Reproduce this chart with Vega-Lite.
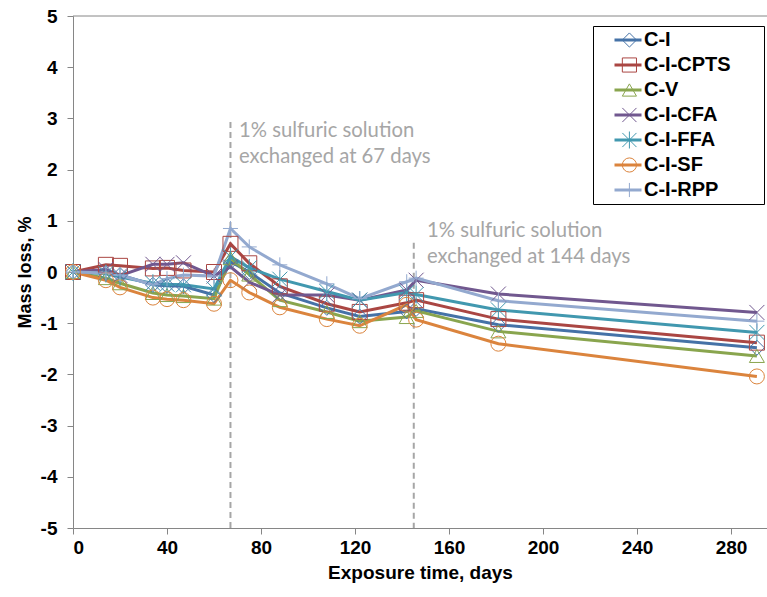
{
  "$schema": "https://vega.github.io/schema/vega-lite/v6.json",
  "width": 694,
  "height": 512,
  "autosize": "none",
  "padding": {"left": 73, "top": 16, "right": 0, "bottom": 69},
  "config": {"view": {"stroke": null}, "font": "Liberation Sans"},
  "datasets": {
    "mass": [
      {"series":"C-I","day":0,"loss":0},{"series":"C-I","day":14,"loss":-0.02},{"series":"C-I","day":20,"loss":-0.06},{"series":"C-I","day":34,"loss":-0.25},{"series":"C-I","day":40,"loss":-0.27},{"series":"C-I","day":47,"loss":-0.28},{"series":"C-I","day":60,"loss":-0.45},{"series":"C-I","day":67,"loss":0.2},{"series":"C-I","day":75,"loss":0.0},{"series":"C-I","day":88,"loss":-0.41},{"series":"C-I","day":108,"loss":-0.7},{"series":"C-I","day":122,"loss":-0.87},{"series":"C-I","day":142,"loss":-0.77},{"series":"C-I","day":146,"loss":-0.72},{"series":"C-I","day":181,"loss":-1.03},{"series":"C-I","day":291,"loss":-1.48},
      {"series":"C-I-CPTS","day":0,"loss":0},{"series":"C-I-CPTS","day":14,"loss":0.14},{"series":"C-I-CPTS","day":20,"loss":0.12},{"series":"C-I-CPTS","day":34,"loss":0.07},{"series":"C-I-CPTS","day":40,"loss":0.08},{"series":"C-I-CPTS","day":47,"loss":0.03},{"series":"C-I-CPTS","day":60,"loss":0.0},{"series":"C-I-CPTS","day":67,"loss":0.55},{"series":"C-I-CPTS","day":75,"loss":0.17},{"series":"C-I-CPTS","day":88,"loss":-0.28},{"series":"C-I-CPTS","day":108,"loss":-0.62},{"series":"C-I-CPTS","day":122,"loss":-0.78},{"series":"C-I-CPTS","day":142,"loss":-0.6},{"series":"C-I-CPTS","day":146,"loss":-0.55},{"series":"C-I-CPTS","day":181,"loss":-0.92},{"series":"C-I-CPTS","day":291,"loss":-1.38},
      {"series":"C-V","day":0,"loss":0},{"series":"C-V","day":14,"loss":-0.12},{"series":"C-V","day":20,"loss":-0.22},{"series":"C-V","day":34,"loss":-0.41},{"series":"C-V","day":40,"loss":-0.45},{"series":"C-V","day":47,"loss":-0.47},{"series":"C-V","day":60,"loss":-0.52},{"series":"C-V","day":67,"loss":0.27},{"series":"C-V","day":75,"loss":-0.05},{"series":"C-V","day":88,"loss":-0.55},{"series":"C-V","day":108,"loss":-0.78},{"series":"C-V","day":122,"loss":-0.96},{"series":"C-V","day":142,"loss":-0.88},{"series":"C-V","day":146,"loss":-0.76},{"series":"C-V","day":181,"loss":-1.16},{"series":"C-V","day":291,"loss":-1.64},
      {"series":"C-I-CFA","day":0,"loss":0},{"series":"C-I-CFA","day":14,"loss":0.05},{"series":"C-I-CFA","day":20,"loss":-0.07},{"series":"C-I-CFA","day":34,"loss":0.15},{"series":"C-I-CFA","day":40,"loss":0.15},{"series":"C-I-CFA","day":47,"loss":0.18},{"series":"C-I-CFA","day":60,"loss":-0.08},{"series":"C-I-CFA","day":67,"loss":0.1},{"series":"C-I-CFA","day":75,"loss":-0.2},{"series":"C-I-CFA","day":88,"loss":-0.45},{"series":"C-I-CFA","day":108,"loss":-0.45},{"series":"C-I-CFA","day":122,"loss":-0.55},{"series":"C-I-CFA","day":142,"loss":-0.35},{"series":"C-I-CFA","day":146,"loss":-0.16},{"series":"C-I-CFA","day":181,"loss":-0.43},{"series":"C-I-CFA","day":291,"loss":-0.79},
      {"series":"C-I-FFA","day":0,"loss":0},{"series":"C-I-FFA","day":14,"loss":-0.03},{"series":"C-I-FFA","day":20,"loss":-0.1},{"series":"C-I-FFA","day":34,"loss":-0.22},{"series":"C-I-FFA","day":40,"loss":-0.24},{"series":"C-I-FFA","day":47,"loss":-0.25},{"series":"C-I-FFA","day":60,"loss":-0.33},{"series":"C-I-FFA","day":67,"loss":0.3},{"series":"C-I-FFA","day":75,"loss":0.08},{"series":"C-I-FFA","day":88,"loss":-0.14},{"series":"C-I-FFA","day":108,"loss":-0.38},{"series":"C-I-FFA","day":122,"loss":-0.55},{"series":"C-I-FFA","day":142,"loss":-0.4},{"series":"C-I-FFA","day":146,"loss":-0.44},{"series":"C-I-FFA","day":181,"loss":-0.74},{"series":"C-I-FFA","day":291,"loss":-1.18},
      {"series":"C-I-SF","day":0,"loss":0},{"series":"C-I-SF","day":14,"loss":-0.16},{"series":"C-I-SF","day":20,"loss":-0.3},{"series":"C-I-SF","day":34,"loss":-0.5},{"series":"C-I-SF","day":40,"loss":-0.53},{"series":"C-I-SF","day":47,"loss":-0.55},{"series":"C-I-SF","day":60,"loss":-0.62},{"series":"C-I-SF","day":67,"loss":-0.16},{"series":"C-I-SF","day":75,"loss":-0.4},{"series":"C-I-SF","day":88,"loss":-0.69},{"series":"C-I-SF","day":108,"loss":-0.92},{"series":"C-I-SF","day":122,"loss":-1.05},{"series":"C-I-SF","day":142,"loss":-0.64},{"series":"C-I-SF","day":146,"loss":-0.93},{"series":"C-I-SF","day":181,"loss":-1.4},{"series":"C-I-SF","day":291,"loss":-2.04},
      {"series":"C-I-RPP","day":0,"loss":0},{"series":"C-I-RPP","day":14,"loss":-0.02},{"series":"C-I-RPP","day":20,"loss":-0.06},{"series":"C-I-RPP","day":34,"loss":-0.25},{"series":"C-I-RPP","day":40,"loss":-0.13},{"series":"C-I-RPP","day":47,"loss":-0.06},{"series":"C-I-RPP","day":60,"loss":-0.08},{"series":"C-I-RPP","day":67,"loss":0.85},{"series":"C-I-RPP","day":75,"loss":0.49},{"series":"C-I-RPP","day":88,"loss":0.14},{"series":"C-I-RPP","day":108,"loss":-0.23},{"series":"C-I-RPP","day":122,"loss":-0.52},{"series":"C-I-RPP","day":142,"loss":-0.19},{"series":"C-I-RPP","day":146,"loss":-0.12},{"series":"C-I-RPP","day":181,"loss":-0.56},{"series":"C-I-RPP","day":291,"loss":-0.96}
    ],
    "events": [
      {"day": 67, "top": 2.93, "bottom": -5},
      {"day": 145, "top": 0.57, "bottom": -5}
    ],
    "notes": [
      {"day": 70.6, "loss": 2.64, "note": "1% sulfuric solution\nexchanged at 67 days"},
      {"day": 150.6, "loss": 0.68, "note": "1% sulfuric solution\nexchanged at 144 days"}
    ]
  },
  "layer": [
    {
      "data": {"values": [{"top": 5}]},
      "mark": {"type": "rule", "color": "#868686", "strokeWidth": 1},
      "encoding": {"y": {"field": "top", "type": "quantitative", "scale": {"domain": [-5, 5], "nice": false}}}
    },
    {
      "data": {"name": "events"},
      "mark": {"type": "rule", "color": "#A6A6A6", "strokeWidth": 2, "strokeDash": [6, 4]},
      "encoding": {
        "x": {"field": "day", "type": "quantitative"},
        "y": {"field": "top", "type": "quantitative"},
        "y2": {"field": "bottom"}
      }
    },
    {
      "data": {"name": "notes"},
      "mark": {"type": "text", "align": "left", "baseline": "alphabetic", "font": "Lato", "fontSize": 20.3, "color": "#A6A6A6", "lineBreak": "\n", "lineHeight": 26},
      "encoding": {
        "x": {"field": "day", "type": "quantitative"},
        "y": {"field": "loss", "type": "quantitative"},
        "text": {"field": "note", "type": "nominal"}
      }
    },
    {
      "data": {"name": "mass"},
      "mark": {"type": "line", "strokeWidth": 3},
      "encoding": {
        "x": {
          "field": "day", "type": "quantitative",
          "scale": {"domain": [0, 295.3], "nice": false, "zero": false},
          "axis": {
            "values": [0, 40, 80, 120, 160, 200, 240, 280],
            "title": "Exposure time, days",
            "titleFont": "Liberation Sans", "titleFontSize": 19, "titleFontWeight": "bold", "titleColor": "black", "titlePadding": 6,
            "labelFont": "Liberation Sans", "labelFontSize": 19, "labelFontWeight": "bold", "labelColor": "black", "labelPadding": 4,
            "domainColor": "#868686", "tickColor": "#868686", "tickSize": 6, "grid": false
          }
        },
        "y": {
          "field": "loss", "type": "quantitative",
          "scale": {"domain": [-5, 5], "nice": false},
          "axis": {
            "values": [-5, -4, -3, -2, -1, 0, 1, 2, 3, 4, 5],
            "labelExpr": "'' + datum.value",
            "title": "Mass loss, %",
            "titleFont": "Liberation Sans", "titleFontSize": 18, "titleFontWeight": "bold", "titleColor": "black", "titlePadding": 6,
            "labelFont": "Liberation Sans", "labelFontSize": 19, "labelFontWeight": "bold", "labelColor": "black", "labelPadding": 10,
            "domainColor": "#868686", "tickColor": "#868686", "tickSize": 6, "grid": false
          }
        },
        "stroke": {
          "field": "series", "type": "nominal",
          "scale": {
            "domain": ["C-I", "C-I-CPTS", "C-V", "C-I-CFA", "C-I-FFA", "C-I-SF", "C-I-RPP"],
            "range": ["#4572A7", "#AA4643", "#89A54E", "#71588F", "#4198AF", "#DB843D", "#93A9CF"]
          },
          "legend": {
            "orient": "none", "legendX": 520, "legendY": 10,
            "title": " ", "titleOrient": "right", "titlePadding": 29, "titleFontSize": 1,
            "symbolType": "stroke", "symbolSize": 729, "symbolStrokeWidth": 3,
            "clipHeight": 20, "rowPadding": 5, "padding": 4, "symbolOffset": 16, "labelOffset": 1,
            "labelFont": "Liberation Sans", "labelFontSize": 20, "labelFontWeight": "bold", "labelColor": "black",
            "strokeColor": "black", "fillColor": "white", "zindex": 0
          }
        }
      }
    },
    {
      "data": {"name": "mass"},
      "mark": {"type": "point", "filled": false, "size": 225, "strokeWidth": 1, "opacity": 1},
      "encoding": {
        "x": {"field": "day", "type": "quantitative"},
        "y": {"field": "loss", "type": "quantitative"},
        "color": {
          "field": "series", "type": "nominal",
          "sort": ["C-I", "C-I-CPTS", "C-V", "C-I-CFA", "C-I-FFA", "C-I-SF", "C-I-RPP"],
          "scale": {"range": ["#4572A7", "#AA4643", "#89A54E", "#71588F", "#4198AF", "#DB843D", "#93A9CF"]},
          "legend": null
        },
        "shape": {
          "field": "series", "type": "nominal",
          "sort": ["C-I", "C-I-CPTS", "C-V", "C-I-CFA", "C-I-FFA", "C-I-SF", "C-I-RPP"],
          "scale": {"range": ["diamond", "square", "triangle-up", "M-1,-1L1,1M-1,1L1,-1", "M-1,-1L1,1M-1,1L1,-1M0,-1.2L0,1.2", "circle", "M0,-1L0,1M-1,0L1,0"]},
          "legend": {
            "orient": "none", "legendX": 542.4, "legendY": 10, "title": null,
            "symbolSize": 200, "symbolStrokeWidth": 1, "symbolFillColor": "transparent",
            "clipHeight": 20, "rowPadding": 5, "padding": 4,
            "labelFont": "Liberation Sans", "labelFontSize": 20, "labelFontWeight": "bold",
            "labelExpr": "''",
            "zindex": 1,
            "encoding": {"symbols": {"stroke": {"value": {"expr": "scale('color', datum.value)"}}}}
          }
        }
      }
    }
  ]
}
